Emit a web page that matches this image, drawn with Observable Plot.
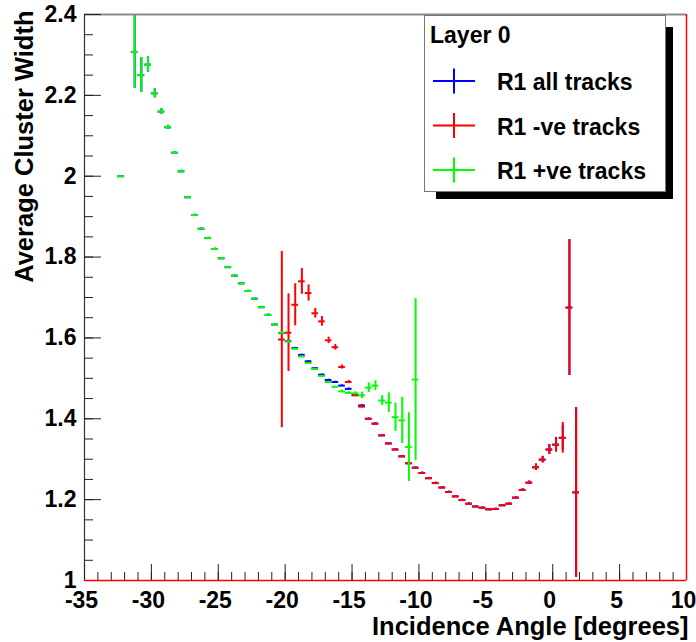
<!DOCTYPE html>
<html><head><meta charset="utf-8">
<script src="https://cdn.jsdelivr.net/npm/d3@7"></script>
<script src="https://cdn.jsdelivr.net/npm/@observablehq/plot@0.6"></script>
<style>
body{margin:0;background:#fff;}
#wrap{position:relative;width:696px;height:642px;overflow:hidden;}
#wrap svg{position:absolute;left:0;top:0;}
</style></head><body><div id="wrap"></div>
<script>
// R1 all tracks (blue)
const allX = [-32.25,-31.25,-30.75,-30.25,-29.75,-29.25,-28.75,-28.25,-27.75,-27.25,-26.75,-26.25,-25.75,-25.25,-24.75,-24.25,-23.75,-23.25,-22.75,-22.25,-21.75,-21.25,-20.75,-20.25,-19.75,-19.25,-18.75,-18.25,-17.75,-17.25,-16.75,-16.25,-15.75,-15.25,-14.75,-14.25,-13.75,-13.25,-12.75,-12.25,-11.75,-11.25,-10.75,-10.25,-9.75,-9.25,-8.75,-8.25,-7.75,-7.25,-6.75,-6.25,-5.75,-5.25,-4.75,-4.25,-3.75,-3.25,-2.75,-2.25,-1.75,-1.25,-0.75,-0.25,0.25,0.75,1.25,1.75];
const allY = [2.000,2.307,2.250,2.276,2.205,2.160,2.121,2.058,2.012,1.948,1.904,1.870,1.847,1.820,1.797,1.775,1.754,1.735,1.716,1.697,1.676,1.657,1.633,1.612,1.592,1.575,1.558,1.542,1.525,1.509,1.496,1.491,1.482,1.474,1.460,1.433,1.400,1.388,1.359,1.339,1.324,1.307,1.290,1.279,1.266,1.253,1.241,1.230,1.219,1.208,1.199,1.190,1.183,1.180,1.176,1.177,1.186,1.190,1.205,1.224,1.242,1.280,1.299,1.324,1.336,1.353,1.675,1.218];
const allErr = [0,0.090,0.043,0.019,0.011,0.007,0.005,0.003,0.003,0.002,0.002,0.002,0.002,0.002,0.002,0.002,0.002,0.002,0.002,0.002,0.002,0.002,0.002,0.002,0.002,0.002,0.002,0.002,0.002,0.002,0.002,0.002,0.002,0.002,0.002,0.002,0.002,0.002,0.002,0.002,0.002,0.002,0.002,0.002,0.002,0.002,0.002,0.002,0.002,0.002,0.002,0.002,0.002,0.002,0.002,0.002,0.002,0.002,0.002,0.003,0.004,0.008,0.008,0.012,0.018,0.030,0.168,0.210];

// R1 -ve tracks (red)
const negX = [-20.25,-19.75,-19.25,-18.75,-18.25,-17.75,-17.25,-16.75,-16.25,-15.75,-15.25,-14.75,-14.25,-13.75,-13.25,-12.75,-12.25,-11.75,-11.25,-10.75,-10.25,-9.75,-9.25,-8.75,-8.25,-7.75,-7.25,-6.75,-6.25,-5.75,-5.25,-4.75,-4.25,-3.75,-3.25,-2.75,-2.25,-1.75,-1.25,-0.75,-0.25,0.25,0.75,1.25,1.75];
const negY = [1.596,1.613,1.682,1.740,1.711,1.661,1.641,1.594,1.577,1.528,1.491,1.458,1.430,1.400,1.388,1.359,1.339,1.324,1.307,1.290,1.279,1.266,1.253,1.241,1.230,1.219,1.208,1.199,1.190,1.183,1.180,1.176,1.177,1.186,1.190,1.205,1.224,1.242,1.280,1.299,1.324,1.336,1.353,1.675,1.218];
const negErr = [0.218,0.096,0.052,0.032,0.020,0.012,0.012,0.008,0.007,0.005,0.004,0.003,0.003,0.002,0.002,0.002,0.002,0.002,0.002,0.006,0.002,0.002,0.002,0.002,0.002,0.002,0.002,0.002,0.002,0.002,0.002,0.002,0.002,0.002,0.002,0.002,0.003,0.004,0.008,0.008,0.012,0.018,0.038,0.168,0.210];

// R1 +ve tracks (green)
const posX = [-32.25,-31.25,-30.75,-30.25,-29.75,-29.25,-28.75,-28.25,-27.75,-27.25,-26.75,-26.25,-25.75,-25.25,-24.75,-24.25,-23.75,-23.25,-22.75,-22.25,-21.75,-21.25,-20.75,-20.25,-19.75,-19.25,-18.75,-18.25,-17.75,-17.25,-16.75,-16.25,-15.75,-15.25,-14.75,-14.25,-13.75,-13.25,-12.75,-12.25,-11.75,-11.25,-10.75,-10.25];
const posY = [2.000,2.307,2.250,2.276,2.205,2.160,2.121,2.058,2.012,1.948,1.904,1.870,1.847,1.820,1.797,1.775,1.754,1.735,1.716,1.697,1.676,1.657,1.633,1.613,1.591,1.573,1.554,1.538,1.523,1.506,1.491,1.479,1.468,1.464,1.463,1.458,1.477,1.482,1.445,1.440,1.404,1.396,1.330,1.497];
const posErr = [0,0.090,0.043,0.019,0.011,0.007,0.005,0.003,0.003,0.002,0.002,0.002,0.002,0.002,0.002,0.002,0.002,0.002,0.002,0.002,0.002,0.002,0.002,0.002,0.002,0.002,0.002,0.002,0.002,0.002,0.002,0.002,0.003,0.003,0.004,0.008,0.012,0.012,0.012,0.024,0.035,0.057,0.085,0.200];

const xTickValues = [-35,-30,-25,-20,-15,-10,-5,0,5,10];
const xTickLabels = ["-35","-30","-25","-20","-15","-10","-5","0","5","10"];
const yTickValues = [1,1.2,1.4,1.6,1.8,2,2.2,2.4];
const yTickLabels = ["1","1.2","1.4","1.6","1.8","2","2.2","2.4"];
const xMinor = d3.range(-35, 10.001, 1);
const yMinor = d3.range(1, 2.4001, 0.05);

const legendTitle = "Layer 0";
const legendNames = ["R1 all tracks","R1 -ve tracks","R1 +ve tracks"];
const legendColors = ["#0000ff","#ff0000","#00ff00"];

const font = "'Liberation Sans', Arial, Helvetica, sans-serif";
const rows = (X, Y, E) => X.map((x, i) => ({x, y: Y[i], err: E[i]}));

function seriesMarks(data, color) {
  return [
    Plot.ruleY(data, {y: "y", x1: d => d.x - 0.25, x2: d => d.x + 0.25, stroke: color, strokeWidth: 2, clip: true}),
    Plot.ruleX(data.filter(d => d.err > 0), {x: "x", y1: d => d.y - d.err, y2: d => d.y + d.err, stroke: color, strokeWidth: 2, clip: true})
  ];
}

const chart = Plot.plot({
  width: 696, height: 642,
  marginLeft: 84, marginRight: 10, marginTop: 14, marginBottom: 62,
  style: {fontFamily: font, background: "#fff"},
  x: {domain: [-35, 10], axis: null},
  y: {domain: [1, 2.4], axis: null},
  marks: [
    Plot.ruleY([2.4], {stroke: "#8a8a8a", strokeWidth: 2}),
    Plot.ruleX([-35], {stroke: "#333", strokeWidth: 1.2}),
    ...seriesMarks(rows(allX, allY, allErr), legendColors[0]),
    ...seriesMarks(rows(negX, negY, negErr), legendColors[1]),
    ...seriesMarks(rows(posX, posY, posErr), legendColors[2]),
    Plot.ruleX(xMinor, {x: d => d, y1: 1, y2: 1, insetTop: -8, stroke: "#222"}),
    Plot.ruleX(xTickValues, {x: d => d, y1: 1, y2: 1, insetTop: -16, stroke: "#222"}),
    Plot.ruleY(yMinor, {y: d => d, x1: -35, x2: -35, insetRight: -9, stroke: "#222"}),
    Plot.ruleY(yTickValues, {y: d => d, x1: -35, x2: -35, insetRight: -17, stroke: "#222"}),
    Plot.ruleY([1], {stroke: "#ff0000", strokeWidth: 1.5}),
    Plot.ruleX([10], {stroke: "#ff0000", strokeWidth: 1.5}),
    Plot.text(xTickValues, {x: d => d, y: 1, dx: -3, dy: 20, lineAnchor: "middle", text: (d, i) => xTickLabels[i], fontSize: 23, fontWeight: "bold", fill: "#000"}),
    Plot.text(yTickValues, {x: -35, y: d => d, dx: -8, lineAnchor: "middle", textAnchor: "end", text: (d, i) => yTickLabels[i], fontSize: 23, fontWeight: "bold", fill: "#000"}),
    Plot.text(["Incidence Angle [degrees]"], {frameAnchor: "bottom-right", lineAnchor: "middle", textAnchor: "end", dx: 2, dy: 46, fontSize: 25.5, fontWeight: "bold", fill: "#000"}),
    Plot.text(["Average Cluster Width"], {frameAnchor: "top-left", lineAnchor: "middle", rotate: -90, textAnchor: "end", dx: -60, dy: -4, fontSize: 25.5, fontWeight: "bold", fill: "#000"})
  ]
});
const wrap = document.getElementById("wrap");
wrap.appendChild(chart);

// legend overlay
const leg = d3.select(wrap).append("svg").attr("width", 696).attr("height", 642)
  .style("pointer-events", "none").style("font-family", font);
leg.append("rect").attr("x", 436).attr("y", 27).attr("width", 237).attr("height", 172).attr("fill", "#000");
leg.append("rect").attr("x", 424.5).attr("y", 15.5).attr("width", 241).attr("height", 176).attr("fill", "#fff").attr("stroke", "#777").attr("stroke-width", 1);
leg.append("text").attr("x", 430).attr("y", 43).attr("font-size", 23).attr("font-weight", "bold").text(legendTitle);
const rowY = [81, 125.5, 170];
legendNames.forEach((name, i) => {
  const cy = rowY[i];
  leg.append("line").attr("x1", 433).attr("x2", 475).attr("y1", cy).attr("y2", cy).attr("stroke", legendColors[i]).attr("stroke-width", 2);
  leg.append("line").attr("x1", 454).attr("x2", 454).attr("y1", cy - 12.5).attr("y2", cy + 12.5).attr("stroke", legendColors[i]).attr("stroke-width", 2);
  leg.append("text").attr("x", 497).attr("y", cy + 9).attr("font-size", 23).attr("font-weight", "bold").text(name);
});
</script></body></html>
